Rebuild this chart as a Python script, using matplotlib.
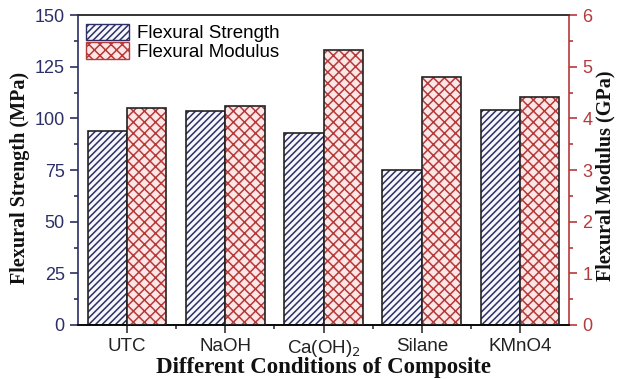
import matplotlib
matplotlib.use("Agg")
import matplotlib.pyplot as plt
import numpy as np
from matplotlib.patches import Patch

categories = ["UTC", "NaOH", "Ca(OH)$_2$", "Silane", "KMnO4"]
strength = [94, 103.5, 93, 75, 104]
modulus = [4.2, 4.25, 5.32, 4.8, 4.42]

navy = "#2b2f66"
red = "#b53a3a"
plt.rcParams['hatch.linewidth'] = 1.1

fig = plt.figure(figsize=(6.18, 3.79), dpi=100)
ax = fig.add_axes([0.126, 0.1425, 0.795, 0.8175])
ax2 = ax.twinx()

x = np.arange(len(categories))
w = 0.4
ax.bar(x - w/2, strength, w, color="#f7f7fc", edgecolor=navy, hatch="/////", linewidth=0, zorder=2)
ax.bar(x - w/2, strength, w, fill=False, edgecolor="#222222", linewidth=1.2, zorder=3)
ax2.bar(x + w/2, modulus, w, color="#fde6e6", edgecolor=red, hatch="xxx", linewidth=0, zorder=2)
ax2.bar(x + w/2, modulus, w, fill=False, edgecolor="#222222", linewidth=1.2, zorder=3)

ax.set_xlim(-0.5, 4.5)
ax.set_ylim(0, 150)
ax2.set_ylim(0, 6)
ax.set_yticks([0, 25, 50, 75, 100, 125, 150])
ax.set_yticks(np.arange(12.5, 150, 25), minor=True)
ax2.set_yticks([0, 1, 2, 3, 4, 5, 6])
ax2.set_yticks(np.arange(0.5, 6, 1), minor=True)
ax.set_xticks(x)
ax.set_xticks(np.arange(0.5, 4, 1), minor=True)
ax.set_xticklabels(categories, fontfamily="Liberation Sans", fontsize=13.5)

for a in (ax, ax2):
    for s in a.spines.values():
        s.set_linewidth(1.2)
ax.spines['left'].set_color(navy)
ax.spines['right'].set_visible(False)
ax.spines['bottom'].set_color("#333333")
ax.spines['top'].set_color("#333333")
ax2.spines['right'].set_color(red)
ax2.spines['left'].set_visible(False)
ax2.spines['top'].set_color("#333333")

ax.tick_params(axis='y', which='both', direction='out', colors=navy, labelsize=13, width=1.2)
ax.tick_params(axis='y', which='major', length=6)
ax.tick_params(axis='y', which='minor', length=3)
ax.tick_params(axis='x', which='both', direction='out', color="#333333", width=1.2)
ax.tick_params(axis='x', which='major', length=6, labelcolor="#222222")
ax.tick_params(axis='x', which='minor', length=3)
ax2.tick_params(axis='y', which='both', direction='out', colors=red, labelsize=13, width=1.2)
ax2.tick_params(axis='y', which='major', length=6)
ax2.tick_params(axis='y', which='minor', length=3)
for lab in ax.get_yticklabels() + ax2.get_yticklabels():
    lab.set_fontfamily("Liberation Sans")

ax.set_ylabel("Flexural Strength (MPa)", fontfamily="Liberation Serif", fontweight="bold", fontsize=14.5, color="#111111")
ax2.set_ylabel("Flexural Modulus (GPa)", fontfamily="Liberation Serif", fontweight="bold", fontsize=14.5, color="#111111")
ax.set_xlabel("Different Conditions of Composite", fontfamily="Liberation Serif", fontweight="bold", fontsize=16.5, color="#111111")

# label placement (axes coords): axes spans x 78..569 px, y 15..325 px
ax.yaxis.set_label_coords((20 - 78) / 491, (325 - 178) / 310)
ax.yaxis.label.set_va('center')
ax2.yaxis.set_label_coords((605 - 78) / 491, (325 - 176) / 310)
ax2.yaxis.label.set_va('center')
ax.xaxis.set_label_coords((323 - 78) / 491, (325 - 368) / 310)
ax.xaxis.label.set_va('center')

handles = [Patch(facecolor="#f7f7fc", edgecolor=navy, hatch="/////", linewidth=1.0),
           Patch(facecolor="#fde6e6", edgecolor=red, hatch="xxx", linewidth=1.0)]
leg = ax.legend(handles, ["Flexural Strength", "Flexural Modulus"], loc="upper left",
                bbox_to_anchor=(0.0, 1.0),
                frameon=False, prop={"family": "Liberation Sans", "size": 13.5},
                handlelength=2.3, handleheight=1.0, borderaxespad=0.2, borderpad=0.25,
                labelspacing=0.0, handletextpad=0.4)
leg.set_zorder(10)

fig.savefig("out.png", dpi=100)
